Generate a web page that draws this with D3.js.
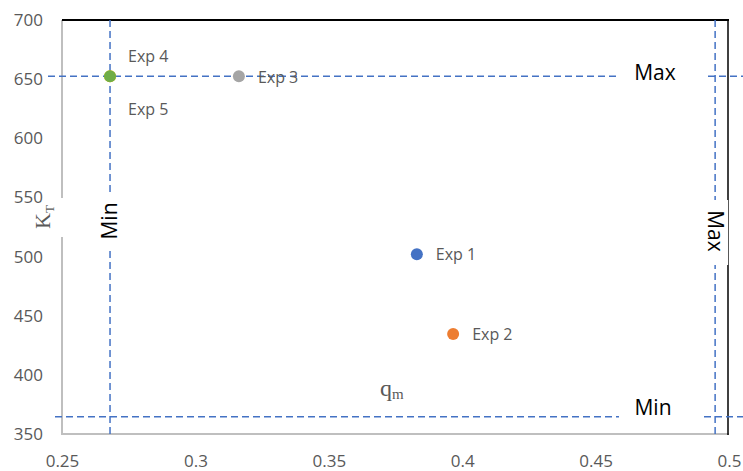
<!DOCTYPE html>
<html><head><meta charset="utf-8">
<script src="https://cdn.jsdelivr.net/npm/d3@7"></script>
<style>body{margin:0;background:#fff}svg{display:block}</style>
</head><body>
<svg id="c" width="743" height="471"></svg>
<script>
const experiments = ["Exp 1","Exp 2","Exp 3","Exp 4","Exp 5"];
const qmValues = [0.383, 0.3966, 0.3163, 0.268, 0.268];
const ktValues = [502, 434.6, 652.5, 652.5, 652.5];
const pointColors = ["#4472C4","#ED7D31","#A5A5A5","#FFC000","#70AD47"];
const xTicks = [0.25,0.3,0.35,0.4,0.45,0.5];
const yTicks = [350,400,450,500,550,600,650,700];
const qmMin = 0.268, qmMax = 0.4948;
const ktMin = 364.5, ktMax = 652.5;

const svg = d3.select("#c");
const x = d3.scaleLinear().domain([0.25,0.5]).range([62,729]);
const y = d3.scaleLinear().domain([350,700]).range([434,20]);
const gray = "#595959";
const font = "'Open Sans', sans-serif";

// axes lines
svg.append("line").attr("x1",62).attr("x2",62).attr("y1",20).attr("y2",198).attr("stroke","#bfbfbf").attr("stroke-width",2);
svg.append("line").attr("x1",62).attr("x2",62).attr("y1",237).attr("y2",435).attr("stroke","#bfbfbf").attr("stroke-width",2);
svg.append("line").attr("x1",61).attr("x2",729).attr("y1",434).attr("y2",434).attr("stroke","#bfbfbf").attr("stroke-width",2);
svg.append("line").attr("x1",62).attr("x2",729).attr("y1",20).attr("y2",20).attr("stroke","#000").attr("stroke-width",2);
svg.append("line").attr("x1",728).attr("x2",728).attr("y1",20).attr("y2",435).attr("stroke","#000").attr("stroke-width",1.5);

// tick labels via axes
const gx = svg.append("g").attr("transform","translate(0,434)")
  .call(d3.axisBottom(x).tickValues(xTicks).tickSize(0).tickPadding(21).tickFormat(d3.format("")));
const gy = svg.append("g").attr("transform","translate(62,0)")
  .call(d3.axisLeft(y).tickValues(yTicks).tickSize(0).tickPadding(19));
[gx,gy].forEach(g=>{g.select(".domain").remove();
  g.selectAll("text").attr("fill",gray).style("font-family",font).style("font-size","17px");});

// dashed reference lines
const dash = {stroke:"#4472C4", "stroke-width":1.5, "stroke-dasharray":"7,4"};
function dl(x1,y1,x2,y2){const l=svg.append("line").attr("x1",x1).attr("y1",y1).attr("x2",x2).attr("y2",y2);
  Object.entries(dash).forEach(([k,v])=>l.attr(k,v));}
dl(48,y(ktMax),743,y(ktMax));
dl(55,y(ktMin),743,y(ktMin));
dl(x(qmMin),y(700),x(qmMin),434);
dl(x(qmMax),y(700),x(qmMax),434);

// points
svg.selectAll("circle.pt").data(experiments).enter().append("circle")
  .attr("cx",(d,i)=>x(qmValues[i])).attr("cy",(d,i)=>y(ktValues[i])).attr("r",6)
  .attr("fill",(d,i)=>pointColors[i]);

// point labels
const lblOff = [[19,0],[19,0],[19,1],[18,-20],[18,33]];
svg.selectAll("text.lbl").data(experiments).enter().append("text")
  .attr("x",(d,i)=>x(qmValues[i])+lblOff[i][0]).attr("y",(d,i)=>y(ktValues[i])+lblOff[i][1])
  .attr("dy","0.35em").attr("fill",gray).style("font-family",font).style("font-size","16px")
  .text(d=>d);

// Max / Min labels with white backgrounds
function box(x0,y0,w,h){svg.append("rect").attr("x",x0).attr("y",y0).attr("width",w).attr("height",h).attr("fill","#fff");}
box(620,y(ktMax)-14,86,28);
svg.append("text").attr("x",655).attr("y",y(ktMax)-4).attr("dy","0.35em").attr("text-anchor","middle")
  .style("font-family",font).style("font-size","21px").attr("fill","#000").text("Max");
box(619,y(ktMin)-14,82,28);
svg.append("text").attr("x",653).attr("y",y(ktMin)-9).attr("dy","0.35em").attr("text-anchor","middle")
  .style("font-family",font).style("font-size","21px").attr("fill","#000").text("Min");
box(x(qmMin)-13,195,26,56);
svg.append("text").attr("transform",`translate(${x(qmMin)},221) rotate(-90)`).attr("dy","0.35em").attr("text-anchor","middle")
  .style("font-family",font).style("font-size","21px").attr("fill","#000").text("Min");
box(703,200,24,65);
box(x(qmMax)-13,200,26,65);
svg.append("text").attr("transform",`translate(${x(qmMax)},231) rotate(90)`).attr("dy","0.35em").attr("text-anchor","middle")
  .style("font-family",font).style("font-size","21px").attr("fill","#000").text("Max");

// axis titles
const kt = svg.append("text").attr("transform","translate(42,217) rotate(-90)").attr("dy","0.35em").attr("text-anchor","middle")
  .style("font-family","'Liberation Serif', serif").style("font-size","22px").attr("fill",gray);
kt.append("tspan").text("K");
kt.append("tspan").attr("dy","4").style("font-size","13px").text("T");
const qm = svg.append("text").attr("x",380).attr("y",396)
  .style("font-family","'Liberation Serif', serif").style("font-size","24px").attr("fill",gray);
qm.append("tspan").text("q");
qm.append("tspan").attr("dy","3").style("font-size","15px").text("m");
</script>
</body></html>
